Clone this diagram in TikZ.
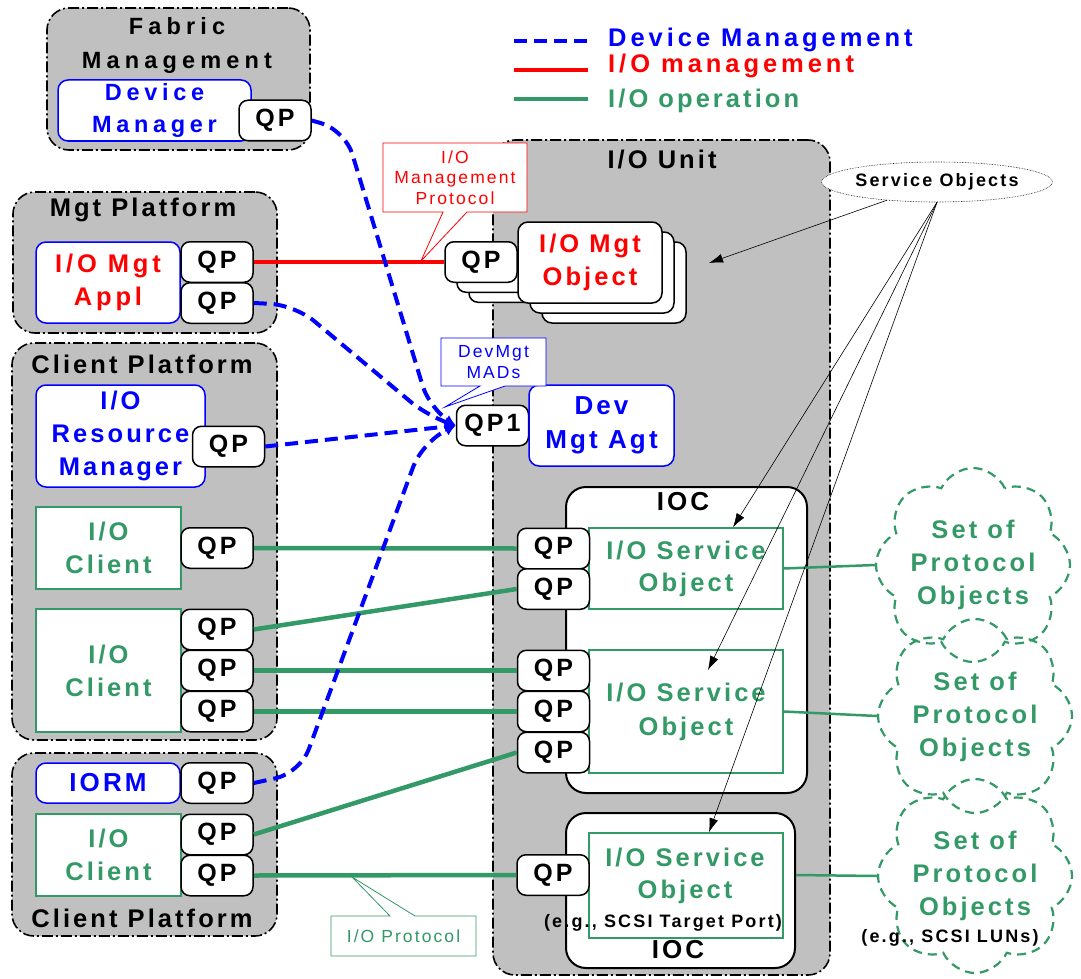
\documentclass[tikz,border=0pt]{standalone}
\usepackage{fontspec}
\setmainfont{Liberation Sans}[LetterSpace=12]
\usetikzlibrary{arrows.meta, shapes.geometric, shapes.symbols}
\definecolor{devblue}{RGB}{0,0,255}
\definecolor{mgtred}{RGB}{255,0,0}
\definecolor{opgreen}{RGB}{51,153,102}
\definecolor{platgray}{RGB}{192,192,192}

\begin{document}
\begin{tikzpicture}[x=1pt, y=-1pt,
    platform/.style={draw=black, fill=platgray, line width=1.6pt, rounded corners=22pt, dash pattern=on 11pt off 3pt on 2pt off 3pt, inner sep=0},
    bigfont/.style={font=\bfseries\fontsize{25.5}{33}\selectfont},
    plattitle/.style={bigfont, align=center, inner sep=0},
    bluebox/.style={draw=devblue, fill=white, line width=1.5pt, rounded corners=10pt, bigfont, text=devblue, align=center, inner sep=0},
    greenbox/.style={draw=opgreen, fill=white, line width=1.5pt, bigfont, text=opgreen, align=center, inner sep=0},
    qp/.style={draw=black, fill=white, line width=1.5pt, rounded corners=9pt, minimum width=72pt, minimum height=40.5pt, inner sep=0, font=\bfseries\fontsize{25}{30}\selectfont},
    mgtobj/.style={draw=black, fill=white, line width=1.5pt, rounded corners=10pt, minimum width=144pt, minimum height=81pt, inner sep=0, bigfont, text=mgtred, align=center},
    iocbox/.style={draw=black, fill=white, line width=2pt, rounded corners=20pt, inner sep=0},
    calltext/.style={font=\fontsize{17.5}{20.5}\selectfont, align=center, inner sep=0},
    smallbold/.style={font=\bfseries\fontsize{18}{22}\selectfont, inner sep=0},
    opline/.style={draw=opgreen, line width=4.5pt},
    mgtline/.style={draw=mgtred, line width=4pt},
    devline/.style={draw=devblue, line width=4pt, dash pattern=on 13pt off 7pt, rounded corners=25pt, -{Latex[length=11pt,width=11pt]}},
    svcline/.style={draw=black, line width=0.6pt, -{Latex[length=14pt,width=9pt]}},
    protoset/.style={cloud, cloud puffs=8, cloud puff arc=130, aspect=1, draw=opgreen, line width=2.2pt, dash pattern=on 9pt off 6pt, minimum width=194pt, minimum height=194pt, inner sep=0},
    settext/.style={bigfont, text=opgreen, align=center, inner sep=0}
]
\useasboundingbox (0,0) rectangle (1081,979);

% Fabric Management
\node[platform, minimum width=263pt, minimum height=142pt] (fabric) at (178.5,79) {};
\node[plattitle, font=\bfseries\fontsize{23.5}{34}\selectfont\addfontfeatures{LetterSpace=22}] (fabtitle) at (177,45) {Fabric\\Management};
\node[bluebox, font=\bfseries\fontsize{23.5}{32}\selectfont\addfontfeatures{LetterSpace=20}, minimum width=193pt, minimum height=61pt] (devmgr) at (154.5,110.5) {Device\\Manager};
\node[qp] (fqp) at (275,120.5) {QP};

% Mgt Platform
\node[platform, minimum width=264pt, minimum height=141pt] (mgtplat) at (145,262.5) {};
\node[plattitle] (mgttitle) at (143,210) {Mgt Platform};
\node[bluebox, text=mgtred, font=\bfseries\fontsize{25.5}{33}\selectfont\addfontfeatures{LetterSpace=15}, minimum width=144pt, minimum height=81pt] (mgtappl) at (108,282.5) {I/O Mgt\\Appl};
\node[qp] (mqpa) at (217,262) {QP};
\node[qp] (mqpb) at (217,303) {QP};

% Client Platform (upper)
\node[platform, minimum width=265pt, minimum height=397pt] (cliplat) at (144.5,541.5) {};
\node[plattitle] (clititle) at (142,364) {Client Platform};
\node[bluebox, minimum width=169pt, minimum height=102pt] (iorsm) at (120.5,436) {I/O\\Resource\\Manager};
\node[qp] (cqpr) at (228.5,446.5) {QP};
\node[greenbox, minimum width=145pt, minimum height=82pt] (client1) at (108.5,548) {I/O\\Client};
\node[qp] (cqp1) at (217,548) {QP};
\node[greenbox, minimum width=145pt, minimum height=123pt] (client2) at (108.5,670.5) {I/O\\Client};
\node[qp] (cqp2) at (217,629.5) {QP};
\node[qp] (cqp3) at (217,670.5) {QP};
\node[qp] (cqp4) at (217,711.5) {QP};

% Client Platform (lower)
\node[platform, minimum width=265pt, minimum height=183pt] (botplat) at (144.5,844.5) {};
\node[bluebox, font=\bfseries\fontsize{26}{33}\selectfont, minimum width=144pt, minimum height=40pt] (iorm) at (108,783) {IORM};
\node[qp] (bqpr) at (217,783) {QP};
\node[greenbox, minimum width=145pt, minimum height=82pt] (client3) at (108.5,855) {I/O\\Client};
\node[qp] (bqp1) at (217,834.5) {QP};
\node[qp] (bqp2) at (217,875.5) {QP};
\node[plattitle] (bottitle) at (142,918) {Client Platform};

% I/O Unit
\node[platform, minimum width=337pt, minimum height=835pt] (iounit) at (661.5,557.5) {};
\node[plattitle] (unittitle) at (662,160) {I/O Unit};

% I/O Mgt Object stack
\foreach \dx/\dy in {24/20, 12/10} {
    \node[qp] at (481+\dx,262+\dy) {};
    \node[mgtobj] at (590+\dx,262.5+\dy) {};
}
\node[qp] (oqp) at (481,262) {QP};
\node[mgtobj] (mgtobj) at (590,262.5) {I/O Mgt\\Object};

% Dev Mgt Agt
\node[qp] (qp1) at (492.5,425.5) {QP1};
\node[bluebox, font=\bfseries\fontsize{26}{34}\selectfont, minimum width=145pt, minimum height=81pt] (devagt) at (601.5,425.5) {Dev\\Mgt Agt};

% IOCs
\node[iocbox, minimum width=241pt, minimum height=306pt] (ioc1) at (686.5,640) {};
\node[plattitle, font=\bfseries\fontsize{26}{30}\selectfont] (ioc1title) at (683,502) {IOC};
\node[greenbox, font=\bfseries\fontsize{25.5}{32}\selectfont, minimum width=194pt, minimum height=81pt] (ioso1) at (686,568.5) {I/O Service\\Object};
\node[qp] (uqp1) at (553.5,548.5) {QP};
\node[qp] (uqp2) at (553.5,589) {QP};
\node[greenbox, font=\bfseries\fontsize{25.5}{34}\selectfont, minimum width=194pt, minimum height=123pt] (ioso2) at (686,711.5) {I/O Service\\Object};
\node[qp] (uqp3) at (553.5,670.5) {QP};
\node[qp] (uqp4) at (553.5,711.5) {QP};
\node[qp] (uqp5) at (553.5,752.5) {QP};

\node[iocbox, minimum width=229pt, minimum height=155pt] (ioc2) at (680.5,890.5) {};
\node[greenbox, minimum width=194pt, minimum height=105pt] (ioso3) at (686,885.5) {};
\node[font=\bfseries\fontsize{25.5}{32}\selectfont, text=opgreen, align=center, inner sep=0] (ioso3text) at (685,876) {I/O Service\\Object};
\node[smallbold] (scsiport) at (663,923) {(e.g., SCSI Target Port)};
\node[plattitle, font=\bfseries\fontsize{26}{30}\selectfont] (ioc2title) at (678,950) {IOC};
\node[qp] (uqp6) at (553,875) {QP};

% Sets of protocol objects
\node[protoset] (cloud1) at (973,565) {};
\node[protoset] (cloud2) at (975,716) {};
\node[protoset] (cloud3) at (975,876) {};
\node[settext] (set1) at (973,565) {Set of\\Protocol\\Objects};
\node[settext] (set2) at (975,717) {Set of\\Protocol\\Objects};
\node[settext] (set3) at (975,876) {Set of\\Protocol\\Objects};
\node[smallbold] (scsiluns) at (950,938) {(e.g., SCSI LUNs)};
\draw[draw=opgreen, line width=2.5pt] (ioso1.east) -- (cloud1.west);
\draw[draw=opgreen, line width=2.5pt] (ioso2.east) -- (cloud2.west);
\draw[draw=opgreen, line width=2.5pt] (ioc2.east |- uqp6) -- (cloud3.west);

% I/O operation
\draw[opline] (cqp1.east) -- (uqp1.west);
\draw[opline] (cqp2.east) -- (uqp2.west);
\draw[opline] (cqp3.east) -- (uqp3.west);
\draw[opline] (cqp4.east) -- (uqp4.west);
\draw[opline] (bqp1.east) -- (uqp5.west);
\draw[opline] (bqp2.east) -- (uqp6.west);

% I/O management
\draw[mgtline] (mqpa.east) -- (oqp.west);

% Device management
\draw[devline] (fqp.east) -- (345,130) -- (430,410) -- (qp1.west);
\draw[devline] (mqpb.east) -- (295,305) -- (430,418) -- (qp1.west);
\draw[devline] (cqpr.east) -- (qp1.west);
\draw[devline] (bqpr.east) -- (300,773) -- (422,443) -- (qp1.west);

% Callouts
\draw[draw=mgtred, line width=0.8pt, fill=white] (383,143) -- (527,143) -- (527,212) -- (467,212) -- (421,261) -- (443,212) -- (383,212) -- cycle;
\node[calltext, text=mgtred] (mgtproto) at (455,177.5) {I/O\\Management\\Protocol};
\draw[draw=devblue, line width=0.8pt, fill=white] (441,338) -- (546,338) -- (546,386) -- (505,386) -- (445,407) -- (480,386) -- (441,386) -- cycle;
\node[calltext, text=devblue] (devmads) at (493.5,362) {DevMgt\\MADs};
\draw[draw=opgreen, line width=0.8pt, fill=white] (331,916) -- (390,916) -- (352,877) -- (415,916) -- (476,916) -- (476,956) -- (331,956) -- cycle;
\node[calltext, text=opgreen] (ioproto) at (403.5,936) {I/O Protocol};

% Service Objects
\node[ellipse, draw=black, line width=0.6pt, densely dotted, fill=white, minimum width=193pt, minimum height=40pt, inner sep=0, smallbold] (svc) at (937,182) {Service Objects};
\draw[svcline] (svc.200) -- (709,263);
\draw[svcline] (svc.south) -- (ioso1.north -| 733,0);
\draw[svcline] (svc.south) -- (708,670);
\draw[svcline] (svc.south) -- (ioso3.north -| 709,0);

% Legend
\draw[devline, -] (514,41) -- (588,41);
\draw[mgtline] (514,70) -- (588,70);
\draw[opline] (514,99) -- (588,99);
\node[bigfont, font=\bfseries\fontsize{25.5}{33}\selectfont\addfontfeatures{LetterSpace=15.5}, text=devblue, anchor=base west, inner sep=0] (lgdev) at (608,47) {Device Management};
\node[bigfont, font=\bfseries\fontsize{25.5}{33}\selectfont\addfontfeatures{LetterSpace=15.5}, text=mgtred, anchor=base west, inner sep=0] (lgmgt) at (608,73) {I/O management};
\node[bigfont, text=opgreen, anchor=base west, inner sep=0] (lgop) at (608,108) {I/O operation};
\end{tikzpicture}
\end{document}
